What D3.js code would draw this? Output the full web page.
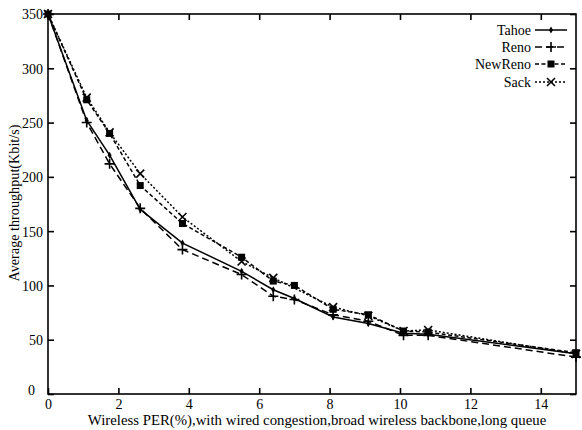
<!DOCTYPE html>
<html>
<head>
<meta charset="utf-8">
<script src="https://cdn.jsdelivr.net/npm/d3@7"></script>
<style>
html,body{margin:0;padding:0;background:#fff;}
svg{display:block;}
text{font-family:"Liberation Serif","Times New Roman",serif;fill:#000;}
</style>
</head>
<body>
<svg id="chart" width="582" height="430"></svg>
<script>
// ---- data ----
const perValues = [0, 1.1, 1.75, 2.62, 3.82, 5.5, 6.4, 7.0, 8.1, 9.1, 10.1, 10.8, 15];
const tahoe   = [350, 252, 220, 170, 139, 113, 96, 88, 71, 65, 56, 55, 37];
const reno    = [350, 250, 212, 171, 133, 110, 90, 87, 73, 67, 54, 54, 34];
const newreno = [350, 271, 240, 192, 157, 126, 104, 100, 78, 73, 58, 57, 38];
const sack    = [350, 273, 241, 203, 163, 122, 107, null, 80, 72, 58, 59, 37];
const seriesNames = ["Tahoe", "Reno", "NewReno", "Sack"];
const xTicks = [0, 2, 4, 6, 8, 10, 12, 14];
const yTicks = [0, 50, 100, 150, 200, 250, 300, 350];
const xTitle = "Wireless PER(%),with wired congestion,broad wireless backbone,long queue";
const yTitle = "Average throughput(Kbit/s)";

const seriesValues = [tahoe, reno, newreno, sack];
const styles = [
  {dash: null, marker: "diamond"},
  {dash: "7,4", marker: "plus"},
  {dash: "4,2.5", marker: "square"},
  {dash: "2,2", marker: "cross"}
];

const svg = d3.select("#chart");
const L = 48, R = 576, T = 14, B = 394;
const x = d3.scaleLinear().domain([0, 15]).range([L, R]);
const y = d3.scaleLinear().domain([0, 350]).range([B, T]);

// frame
svg.append("rect").attr("x", L).attr("y", T).attr("width", R - L).attr("height", B - T)
  .attr("fill", "none").attr("stroke", "#000").attr("stroke-width", 1.6);

const tl = 6;
// axes
const gB = svg.append("g").attr("transform", `translate(0,${B})`)
  .call(d3.axisBottom(x).tickValues(xTicks).tickSize(-tl).tickPadding(8).tickFormat(d3.format("d")));
const gT = svg.append("g").attr("transform", `translate(0,${T})`)
  .call(d3.axisTop(x).tickValues(xTicks).tickSize(-tl).tickFormat(""));
const gL = svg.append("g").attr("transform", `translate(${L},0)`)
  .call(d3.axisLeft(y).tickValues(yTicks).tickSize(-tl).tickPadding(5).tickFormat(d3.format("d")));
const gR = svg.append("g").attr("transform", `translate(${R},0)`)
  .call(d3.axisRight(y).tickValues(yTicks).tickSize(-tl).tickFormat(""));
[gB, gT, gL, gR].forEach(g => {
  g.select(".domain").remove();
  g.selectAll(".tick line").attr("stroke", "#000").attr("stroke-width", 1.6);
  g.selectAll("text").attr("font-family", '"Liberation Serif",serif').attr("font-size", 14).attr("fill", "#000");
});
gB.selectAll(".tick text").attr("dy", "0.5em");
gL.selectAll(".tick text").attr("dy", "0.35em");
gL.selectAll(".tick").filter(d => d === 0).select("text").attr("dy", "0.05em").attr("x", -13);

// titles
svg.append("text").attr("x", 317).attr("y", 424.5).attr("text-anchor", "middle")
  .attr("font-size", 14.8).text(xTitle);
svg.append("text").attr("transform", "translate(19,203) rotate(-90)").attr("text-anchor", "middle")
  .attr("font-size", 14.2).text(yTitle);

function drawMarker(g, type, cx, cy) {
  if (type === "diamond") {
    g.append("path").attr("d", d3.symbol(d3.symbolDiamond, 14)()).attr("transform", `translate(${cx},${cy})`).attr("fill", "#000");
  } else if (type === "plus") {
    g.append("path").attr("d", `M${cx-5},${cy}H${cx+5}M${cx},${cy-5}V${cy+5}`).attr("stroke", "#000").attr("stroke-width", 1.6);
  } else if (type === "square") {
    g.append("rect").attr("x", cx - 3.5).attr("y", cy - 3.5).attr("width", 7).attr("height", 7).attr("fill", "#000");
  } else {
    g.append("path").attr("d", `M${cx-4},${cy-4}L${cx+4},${cy+4}M${cx-4},${cy+4}L${cx+4},${cy-4}`).attr("stroke", "#000").attr("stroke-width", 1.6);
  }
}

const line = d3.line().x(d => x(d[0])).y(d => y(d[1]));
seriesValues.forEach((vals, i) => {
  const pts = perValues.map((p, j) => [p, vals[j]]).filter(d => d[1] !== null);
  const g = svg.append("g");
  g.append("path").datum(pts).attr("d", line).attr("fill", "none").attr("stroke", "#000")
    .attr("stroke-width", 1.5).attr("stroke-dasharray", styles[i].dash);
  pts.forEach(d => drawMarker(g, styles[i].marker, x(d[0]), y(d[1])));
});

// legend
const legRows = [30, 47, 64, 82];
seriesNames.forEach((name, i) => {
  const g = svg.append("g");
  const ly = legRows[i];
  g.append("text").attr("x", 531).attr("y", ly + 5).attr("text-anchor", "end").attr("font-size", 14).text(name);
  g.append("line").attr("x1", 535).attr("x2", 567).attr("y1", ly).attr("y2", ly)
    .attr("stroke", "#000").attr("stroke-width", 1.5).attr("stroke-dasharray", styles[i].dash);
  drawMarker(g, styles[i].marker, 551, ly);
});
</script>
</body>
</html>
